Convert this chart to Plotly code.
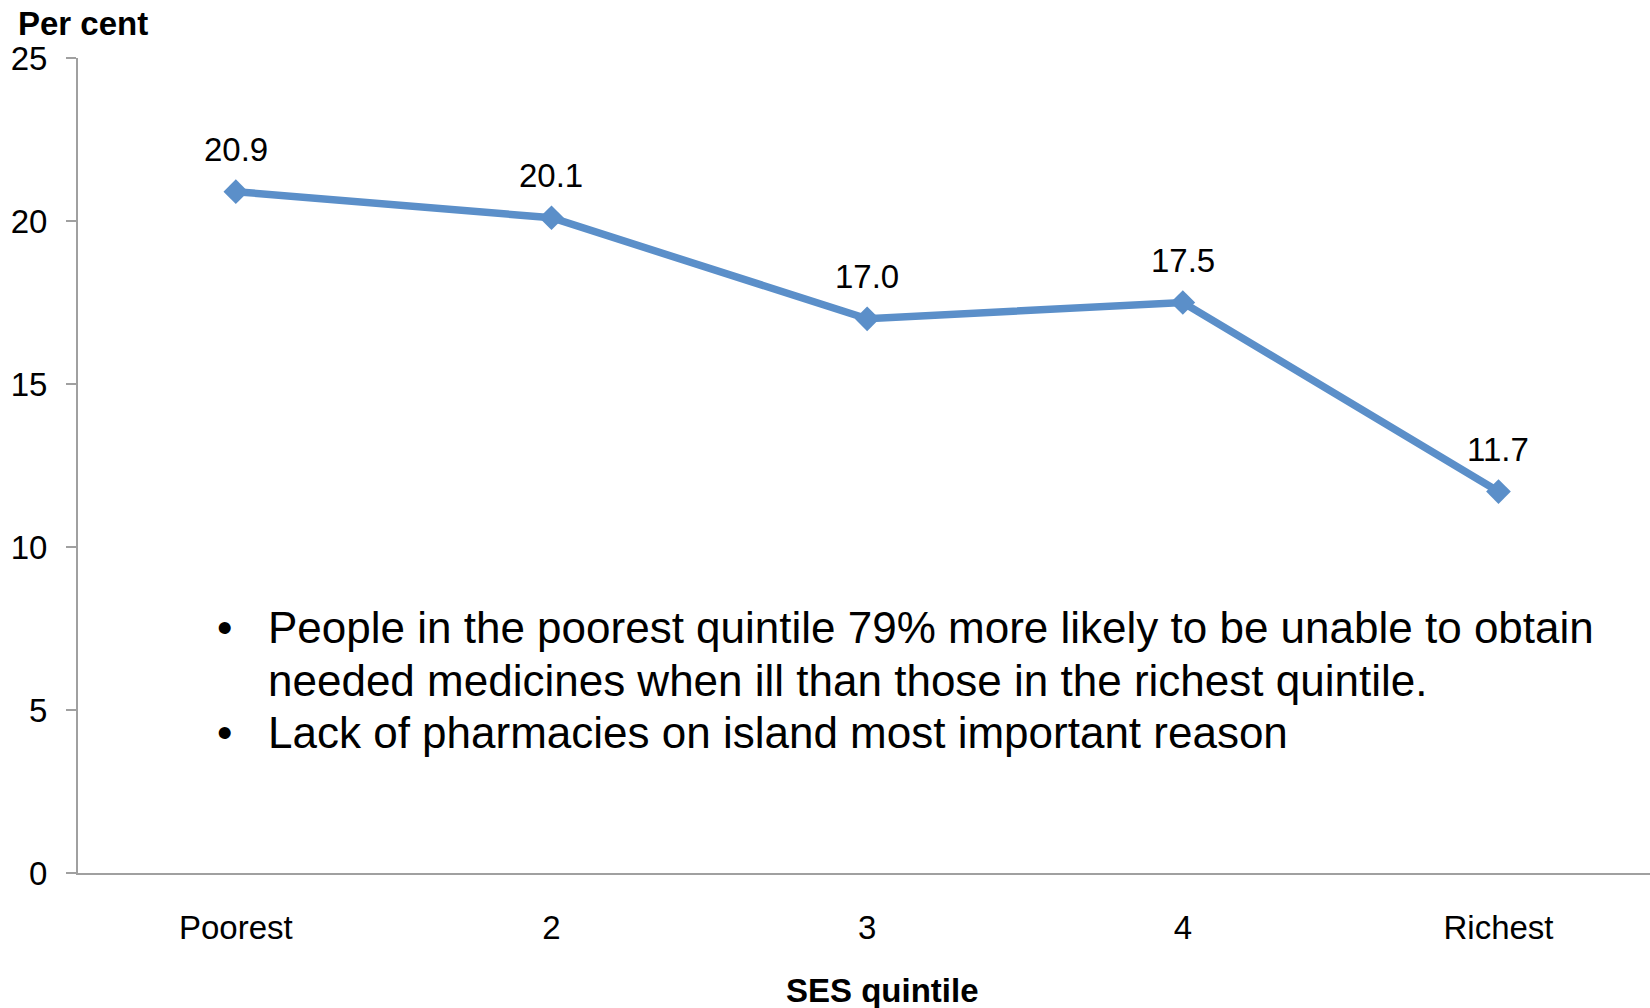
import plotly.graph_objects as go

# Share unable to obtain needed medicines when ill, by SES quintile
quintiles = ["Poorest", "2", "3", "4", "Richest"]
per_cent = [20.9, 20.1, 17.0, 17.5, 11.7]
y_ticks = [0, 5, 10, 15, 20, 25]

bullet_lines = [
    ("•", "People in the poorest quintile 79% more likely to be unable to obtain"),
    ("", "needed medicines when ill than those in the richest quintile."),
    ("•", "Lack of pharmacies on island most important reason"),
]

FONT = "Liberation Sans, Arial, Helvetica, sans-serif"
BLUE = "#5B8FC9"
AXIS = "#A0A0A0"

W, H = 1650, 1008
L, R, T, B = 78, 0, 58, 135
plot_w = W - L - R
plot_h = H - T - B


def px_x(x):
    return (x - L) / plot_w


def px_y(y):
    return (H - B - y) / plot_h


fig = go.Figure()
fig.add_trace(go.Scatter(
    x=quintiles, y=per_cent, mode="lines+markers",
    line=dict(color=BLUE, width=7.5),
    marker=dict(symbol="diamond", size=19, color=BLUE),
    hoverinfo="skip", showlegend=False,
))

annotations = []
# value labels above each point (category index keeps "2".."4" unambiguous)
for i, v in enumerate(per_cent):
    annotations.append(dict(
        x=i, y=v, xref="x", yref="y", text=f"{v:.1f}", showarrow=False,
        yshift=42, font=dict(size=33, color="black", family=FONT),
    ))

# bullet notes
line_y = [627, 680, 732]
for (bullet, text), yy in zip(bullet_lines, line_y):
    if bullet:
        annotations.append(dict(
            x=px_x(224), y=px_y(yy), xref="paper", yref="paper", text=bullet,
            showarrow=False, xanchor="center", yanchor="middle",
            font=dict(size=44, color="black", family=FONT),
        ))
    annotations.append(dict(
        x=px_x(266), y=px_y(yy), xref="paper", yref="paper", text=text,
        showarrow=False, xanchor="left", yanchor="middle",
        font=dict(size=44, color="black", family=FONT),
    ))

# axis titles
annotations.append(dict(
    x=px_x(16), y=px_y(23), xref="paper", yref="paper", text="<b>Per cent</b>",
    showarrow=False, xanchor="left", yanchor="middle",
    font=dict(size=33, color="black", family=FONT),
))
annotations.append(dict(
    x=px_x(883), y=px_y(990), xref="paper", yref="paper", text="<b>SES quintile</b>",
    showarrow=False, xanchor="center", yanchor="middle",
    font=dict(size=33, color="black", family=FONT),
))

fig.update_layout(
    width=W, height=H,
    margin=dict(l=L, r=R, t=T, b=B, pad=0),
    paper_bgcolor="white", plot_bgcolor="white",
    font=dict(family=FONT, size=33, color="black"),
    annotations=annotations,
    xaxis=dict(
        type="category", range=[-0.5, 4.48], showgrid=False, zeroline=False,
        showline=True, linecolor=AXIS, linewidth=2, ticks="",
        tickfont=dict(size=33, color="black"), ticklabelstandoff=24,
    ),
    yaxis=dict(
        range=[0, 25], tickvals=y_ticks, showgrid=False, zeroline=False,
        showline=True, linecolor=AXIS, linewidth=2,
        ticks="outside", ticklen=10, tickcolor=AXIS, tickwidth=2,
        tickfont=dict(size=33, color="black"), ticklabelstandoff=12,
    ),
)

fig.write_html("out.html")
